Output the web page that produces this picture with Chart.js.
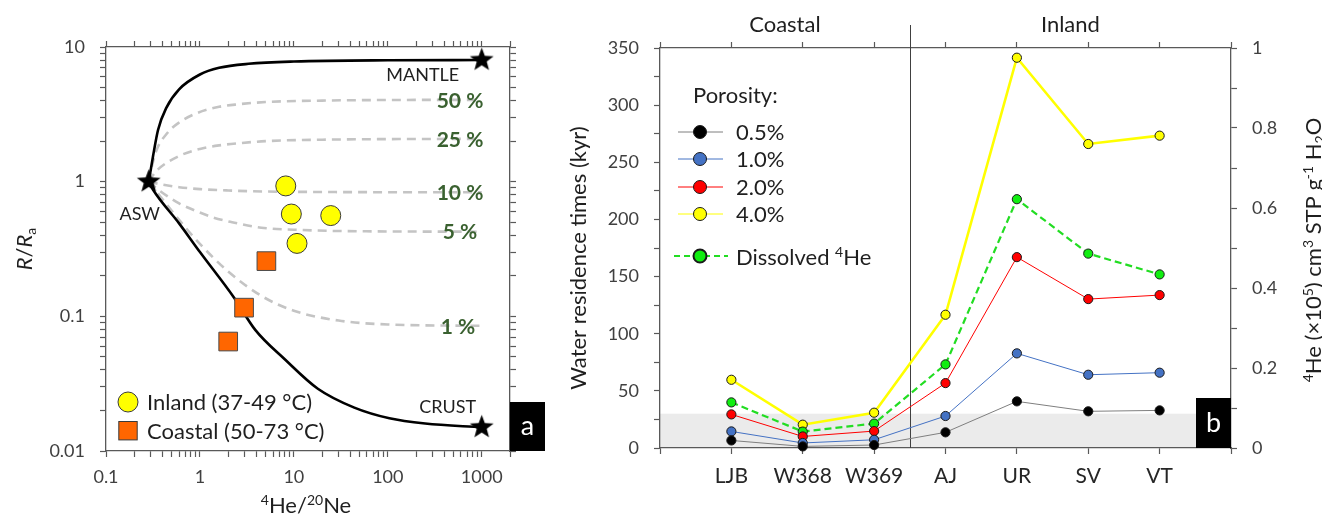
<!DOCTYPE html>
<html lang="en">
<head>
  <meta charset="utf-8">
  <title>Helium mixing and water residence times</title>
  <script src="https://cdn.jsdelivr.net/npm/chart.js@4.4.1/dist/chart.umd.min.js"></script>
  <style>
    html, body { margin: 0; padding: 0; background: #fff; }
    #wrap { position: relative; width: 1322px; height: 518px; overflow: hidden; }
    #chartA { position: absolute; left: 0; top: 0; }
    #chartB { position: absolute; left: 560px; top: 0; }
  </style>
</head>
<body>
<div id="wrap">
  <canvas id="chartA" width="560" height="518"></canvas>
  <canvas id="chartB" width="762" height="518"></canvas>
</div>
<script>
// ---------- panel a : R/Ra vs 4He/20Ne ----------
const endNames = ['ASW', 'MANTLE', 'CRUST'];
const endX = [0.285, 1000, 1000];
const endY = [1, 8, 0.015];

const inlandX = [8.2, 9.4, 24.7, 10.8];
const inlandY = [0.93, 0.575, 0.56, 0.348];
const coastalX = [5.1, 2.95, 2.0];
const coastalY = [0.257, 0.116, 0.065];

const mantleX = [0.285, 0.293, 0.317, 0.358, 0.44, 0.6, 1.0, 1.6, 3.3, 10, 100, 1000];
const mantleY = [1, 1.12, 1.55, 2.42, 3.55, 4.85, 6.25, 7.0, 7.5, 7.8, 7.97, 8];
const crustX = [0.285, 0.317, 0.6, 1.0, 2.3, 3.9, 8, 18, 44, 104, 250, 1000];
const crustY = [1, 0.87, 0.49, 0.3, 0.138, 0.079, 0.048, 0.029, 0.021, 0.0175, 0.016, 0.015];

const mixLabels = ['50 %', '25 %', '10 %', '5 %', '1 %'];
const mix50X = [0.285, 0.3, 0.344, 0.45, 0.6, 0.9, 1.6, 2.6, 5, 20, 100, 1000];
const mix50Y = [1, 1.2, 1.7, 2.3, 2.75, 3.2, 3.6, 3.76, 3.9, 4.0, 4.04, 4.05];
const mix25X = [0.285, 0.344, 0.6, 1.0, 1.6, 2.6, 5, 20, 100, 1000];
const mix25Y = [1, 1.2, 1.55, 1.75, 1.86, 1.93, 2.0, 2.05, 2.07, 2.08];
const mix10X = [0.285, 0.4, 0.6, 1.0, 2.0, 5, 20, 100, 1000];
const mix10Y = [1, 0.95, 0.91, 0.88, 0.86, 0.845, 0.838, 0.835, 0.834];
const mix05X = [0.285, 0.37, 0.6, 1.0, 1.4, 2.2, 4.5, 10, 30, 1000];
const mix05Y = [1, 0.86, 0.69, 0.59, 0.54, 0.5, 0.455, 0.44, 0.43, 0.425];
const mix01X = [0.285, 0.4, 0.6, 1.0, 2.0, 4.5, 10, 30, 100, 1000];
const mix01Y = [1, 0.74, 0.52, 0.345, 0.215, 0.142, 0.11, 0.093, 0.087, 0.085];

// ---------- panel b : residence times ----------
const sites = ['LJB', 'W368', 'W369', 'AJ', 'UR', 'SV', 'VT'];
const groupNames = ['Coastal', 'Inland'];
const por05 = [6.6, 1.4, 2.6, 13.7, 40.8, 32.1, 32.9];
const por10 = [14.5, 4.4, 7.2, 28.0, 82.8, 64.1, 65.9];
const por20 = [29.4, 10.1, 14.8, 56.8, 167, 130.3, 133.8];
const por40 = [59.7, 20.4, 30.9, 116.6, 341.5, 266, 273.3];
const dissolvedHe = [0.114, 0.041, 0.061, 0.209, 0.622, 0.486, 0.434];
const porosityLabels = ['0.5%', '1.0%', '2.0%', '4.0%'];
const bandTop = 30; // grey band, kyr

Chart.defaults.font.family = 'Lato, "Open Sans", sans-serif';
Chart.defaults.color = '#404040';
Chart.defaults.animation = false;

const AXIS = '#595959';
const TXT = '#1f1f1f';

function xy(xs, ys) { return xs.map((x, i) => ({ x: x, y: ys[i] })); }

function decadeTicks(min, max) {
  const out = [];
  for (let e = Math.floor(Math.log10(min)); e <= Math.ceil(Math.log10(max)); e++) {
    for (let m = 1; m <= 9; m++) {
      const v = Number((m * Math.pow(10, e)).toPrecision(2));
      if (v >= min * 0.999 && v <= max * 1.001) out.push({ value: v });
    }
  }
  return out;
}
function decadeLabel(v) {
  const p = Math.log10(v);
  return Math.abs(p - Math.round(p)) < 1e-6 ? String(Number(v.toPrecision(1))) : '';
}

function logAxis(pos, min, max, size, showLabels, pad) {
  return {
    type: 'logarithmic', position: pos, min: min, max: max,
    grid: { drawOnChartArea: false, color: AXIS, tickLength: 6, tickWidth: 1.2 },
    border: { color: AXIS, width: 1.3 },
    ticks: { display: showLabels, autoSkip: false, maxRotation: 0, padding: pad,
      font: { size: 18 }, color: '#404040', callback: (v) => decadeLabel(v) },
    afterBuildTicks: (s) => { s.ticks = decadeTicks(min, max); },
    afterFit: (s) => {
      if (pos === 'top' || pos === 'bottom') s.height = size; else s.width = size;
    }
  };
}

function makeStar(r) {
  const c = document.createElement('canvas');
  const s = Math.ceil(r * 2 + 2);
  c.width = s; c.height = s;
  const g = c.getContext('2d');
  g.translate(s / 2, s / 2);
  g.beginPath();
  for (let i = 0; i < 10; i++) {
    const rad = i % 2 === 0 ? r : r * 0.42;
    const a = -Math.PI / 2 + i * Math.PI / 5;
    g.lineTo(Math.cos(a) * rad, Math.sin(a) * rad);
  }
  g.closePath();
  g.fillStyle = '#000';
  g.fill();
  return c;
}

// text with superscripts / subscripts / italics
function partFont(p, size) {
  const s = (p.sup || p.sub) ? Math.round(size * 0.65) : size;
  return (p.italic ? 'italic ' : '') + (p.bold ? 'bold ' : '') + s + 'px Lato, "Open Sans", sans-serif';
}
function drawRich(ctx, parts, x, y, size, align, color) {
  let w = 0;
  parts.forEach(p => { ctx.font = partFont(p, size); w += ctx.measureText(p.t).width; });
  let cx = align === 'center' ? x - w / 2 : x;
  ctx.textAlign = 'left';
  ctx.textBaseline = 'alphabetic';
  ctx.fillStyle = color;
  const base = y + size * 0.36;
  parts.forEach(p => {
    ctx.font = partFont(p, size);
    let dy = 0;
    if (p.sup) dy = -size * 0.38;
    if (p.sub) dy = size * 0.2;
    ctx.fillText(p.t, cx, base + dy);
    cx += ctx.measureText(p.t).width;
  });
}
function drawRichRotated(ctx, parts, x, y, size, color) {
  ctx.save();
  ctx.translate(x, y);
  ctx.rotate(-Math.PI / 2);
  drawRich(ctx, parts, 0, 0, size, 'center', color);
  ctx.restore();
}

// ---------- chart a ----------
const star = makeStar(12.5);
const dashedStyle = { borderColor: '#c4c4c4', borderWidth: 2.6, borderDash: [9, 6], pointRadius: 0,
  cubicInterpolationMode: 'monotone', fill: false };
const mixSets = [[mix50X, mix50Y], [mix25X, mix25Y], [mix10X, mix10Y], [mix05X, mix05Y], [mix01X, mix01Y]];

const panelA = {
  id: 'panelA',
  afterDraw(chart) {
    const ctx = chart.ctx, a = chart.chartArea;
    const xs = chart.scales.x, ys = chart.scales.y;
    // percentage labels at the end of the dashed curves
    mixSets.forEach((m, i) => {
      const py = ys.getPixelForValue(m[1][m[1].length - 1]);
      ctx.font = 'bold 21px Lato, "Open Sans", sans-serif';
      ctx.textAlign = 'center';
      ctx.textBaseline = 'middle';
      ctx.fillStyle = '#3a6130';
      ctx.fillText(mixLabels[i], a.right - (i === 4 ? 52 : 50), py + 1);
    });
    // end-member names
    ctx.font = '18px Lato, "Open Sans", sans-serif';
    ctx.fillStyle = TXT;
    ctx.textAlign = 'center';
    ctx.textBaseline = 'middle';
    const p0x = xs.getPixelForValue(endX[0]), p0y = ys.getPixelForValue(endY[0]);
    ctx.fillText(endNames[0], p0x - 9, p0y + 33);
    ctx.fillText(endNames[1], xs.getPixelForValue(endX[1]) - 59, ys.getPixelForValue(endY[1]) + 15);
    ctx.fillText(endNames[2], xs.getPixelForValue(endX[2]) - 34, ys.getPixelForValue(endY[2]) - 20);
    // legend
    const lx = a.left + 22;
    ctx.beginPath();
    ctx.arc(lx, a.bottom - 49, 10, 0, Math.PI * 2);
    ctx.fillStyle = '#ffff00'; ctx.fill();
    ctx.strokeStyle = '#3a3a3a'; ctx.lineWidth = 1; ctx.stroke();
    ctx.fillStyle = '#ff6600';
    ctx.fillRect(lx - 9.2, a.bottom - 29.5, 18.4, 18.4);
    ctx.strokeRect(lx - 9.2, a.bottom - 29.5, 18.4, 18.4);
    ctx.font = '22px Lato, "Open Sans", sans-serif';
    ctx.fillStyle = TXT;
    ctx.textAlign = 'left';
    ctx.fillText('Inland (37-49 °C)', lx + 19, a.bottom - 48);
    ctx.fillText('Coastal (50-73 °C)', lx + 19, a.bottom - 19);
    // panel tag
    ctx.fillStyle = '#000';
    ctx.fillRect(a.right, a.bottom - 49, 35, 49);
    ctx.fillStyle = '#fff';
    ctx.font = '27px Lato, "Open Sans", sans-serif';
    ctx.textAlign = 'center';
    ctx.textBaseline = 'alphabetic';
    ctx.fillText('a', a.right + 17.5, a.bottom - 16);
    // axis titles
    drawRich(ctx, [{ t: '4', sup: true }, { t: 'He/' }, { t: '20', sup: true }, { t: 'Ne' }],
      (a.left + a.right) / 2 - 2, 505, 22, 'center', TXT);
    drawRichRotated(ctx, [{ t: 'R', italic: true }, { t: '/' }, { t: 'R', italic: true }, { t: 'a', sub: true }],
      24, (a.top + a.bottom) / 2, 22, TXT);
  }
};

new Chart(document.getElementById('chartA'), {
  type: 'line',
  data: {
    datasets: [
      { label: 'end members', data: xy(endX, endY), showLine: false, pointStyle: star, pointRadius: 12,
        clip: false, order: 0 },
      { label: 'Inland (37-49 °C)', data: xy(inlandX, inlandY), showLine: false, pointStyle: 'circle',
        pointRadius: 10, backgroundColor: '#ffff00', borderColor: '#3a3a3a', borderWidth: 1, clip: false, order: 1 },
      { label: 'Coastal (50-73 °C)', data: xy(coastalX, coastalY), showLine: false, pointStyle: 'rect',
        pointRadius: 13.2, backgroundColor: '#ff6600', borderColor: '#4a4a4a', borderWidth: 1, clip: false, order: 2 },
      { label: 'mantle', data: xy(mantleX, mantleY), borderColor: '#000', borderWidth: 2.6, pointRadius: 0,
        cubicInterpolationMode: 'monotone', order: 3 },
      { label: 'crust', data: xy(crustX, crustY), borderColor: '#000', borderWidth: 2.6, pointRadius: 0,
        cubicInterpolationMode: 'monotone', order: 4 },
      ...mixSets.map((m, i) => Object.assign({ label: mixLabels[i], data: xy(m[0], m[1]), order: 5 + i }, dashedStyle))
    ]
  },
  options: {
    responsive: false,
    layout: { padding: { left: 0, right: 50, top: 47, bottom: 0 } },
    plugins: { legend: { display: false }, tooltip: { enabled: false } },
    scales: {
      x: logAxis('bottom', 0.1, 2000, 67, true, 9),
      xTop: logAxis('top', 0.1, 2000, 0, false, 0),
      y: logAxis('left', 0.01, 10, 106, true, 15),
      yRight: logAxis('right', 0.01, 10, 0, false, 0)
    }
  },
  plugins: [panelA]
});

// ---------- chart b ----------
const seriesStyle = [
  { data: por05, line: '#7f7f7f', fill: '#000000', width: 1, dash: [] },
  { data: por10, line: '#4472c4', fill: '#4472c4', width: 1, dash: [] },
  { data: por20, line: '#ff0000', fill: '#ff0000', width: 1, dash: [] },
  { data: por40, line: '#ffff00', fill: '#ffff00', width: 2.6, dash: [] }
];
const heStyle = { line: '#22dd22', fill: '#11ee11', width: 2.2, dash: [7, 4] };

function linAxis(pos, min, max, step, size, opts) {
  return Object.assign({
    type: 'linear', position: pos, min: min, max: max,
    grid: { drawOnChartArea: false, color: AXIS, tickLength: 6, tickWidth: 1.2 },
    border: { color: AXIS, width: 1.3 },
    afterFit: (s) => {
      if (pos === 'top' || pos === 'bottom') s.height = size; else s.width = size;
    }
  }, opts, { ticks: Object.assign({ stepSize: step, autoSkip: false, maxRotation: 0, color: '#404040',
    font: { size: 18 } }, opts.ticks || {}) });
}

const panelB = {
  id: 'panelB',
  beforeDraw(chart) {
    const ctx = chart.ctx, a = chart.chartArea, ys = chart.scales.y;
    const top = ys.getPixelForValue(bandTop);
    ctx.save();
    ctx.fillStyle = '#ebebeb';
    ctx.fillRect(a.left, top, a.right - a.left, a.bottom - top);
    ctx.restore();
  },
  beforeDatasetsDraw(chart) {
    const ctx = chart.ctx, a = chart.chartArea, xs = chart.scales.x;
    const sx = Math.round(xs.getPixelForValue(2.5)) + 0.5;
    ctx.save();
    ctx.strokeStyle = '#404040';
    ctx.lineWidth = 1;
    ctx.beginPath();
    ctx.moveTo(sx, 25);
    ctx.lineTo(sx, a.bottom);
    ctx.stroke();
    ctx.restore();
  },
  afterDraw(chart) {
    const ctx = chart.ctx, a = chart.chartArea, xs = chart.scales.x;
    const sx = xs.getPixelForValue(2.5);
    ctx.save();
    ctx.font = '22px Lato, "Open Sans", sans-serif';
    ctx.fillStyle = TXT;
    ctx.textAlign = 'center';
    ctx.textBaseline = 'middle';
    ctx.fillText(groupNames[0], (a.left + sx) / 2, 25);
    ctx.fillText(groupNames[1], (sx + a.right) / 2, 25);
    // legend
    const lx = a.left + 18, mx = a.left + 40, tx = a.left + 76;
    ctx.textAlign = 'left';
    ctx.fillText('Porosity:', a.left + 33, 96);
    const rows = [132, 159, 187, 214];
    seriesStyle.forEach((s, i) => {
      ctx.strokeStyle = s.line; ctx.lineWidth = 1; ctx.setLineDash([]);
      ctx.beginPath(); ctx.moveTo(lx, rows[i]); ctx.lineTo(lx + 45, rows[i]); ctx.stroke();
      ctx.beginPath(); ctx.arc(mx, rows[i], 6.5, 0, Math.PI * 2);
      ctx.fillStyle = s.fill; ctx.fill();
      ctx.strokeStyle = '#1a1a1a'; ctx.lineWidth = 1; ctx.stroke();
      ctx.fillStyle = TXT;
      ctx.fillText(porosityLabels[i], tx, rows[i] + 1);
    });
    ctx.strokeStyle = heStyle.line; ctx.lineWidth = 2; ctx.setLineDash([6, 4]);
    ctx.beginPath(); ctx.moveTo(lx - 4, 256); ctx.lineTo(lx + 50, 256); ctx.stroke();
    ctx.setLineDash([]);
    ctx.beginPath(); ctx.arc(mx, 256, 6.5, 0, Math.PI * 2);
    ctx.fillStyle = heStyle.fill; ctx.fill();
    ctx.strokeStyle = '#1a1a1a'; ctx.stroke();
    drawRich(ctx, [{ t: 'Dissolved ' }, { t: '4', sup: true }, { t: 'He' }], tx, 257, 22, 'left', TXT);
    // panel tag
    ctx.fillStyle = '#000';
    ctx.fillRect(a.right - 35, a.bottom - 50, 35, 50);
    ctx.fillStyle = '#fff';
    ctx.font = '27px Lato, "Open Sans", sans-serif';
    ctx.textAlign = 'center';
    ctx.textBaseline = 'alphabetic';
    ctx.fillText('b', a.right - 17.5, a.bottom - 16);
    // axis titles
    drawRichRotated(ctx, [{ t: 'Water residence times (kyr)' }], 18, 258, 22, TXT);
    drawRichRotated(ctx, [{ t: '4', sup: true }, { t: 'He (×10' }, { t: '5', sup: true }, { t: ') cm' },
      { t: '3', sup: true }, { t: ' STP g' }, { t: '-1', sup: true }, { t: ' H' }, { t: '2', sub: true }, { t: 'O' }],
      753, 250, 22, TXT);
    ctx.restore();
  }
};

const bSets = seriesStyle.map((s, i) => ({
  label: porosityLabels[i],
  data: s.data.map((v, k) => ({ x: k, y: v })),
  yAxisID: 'y',
  borderColor: s.line, borderWidth: s.width,
  pointRadius: 4.6, pointBackgroundColor: s.fill, pointBorderColor: '#1a1a1a', pointBorderWidth: 1,
  clip: false, order: i === 3 ? 4 : i
}));
bSets.push({
  label: 'Dissolved 4He',
  data: dissolvedHe.map((v, k) => ({ x: k, y: v })),
  yAxisID: 'y1',
  borderColor: heStyle.line, borderWidth: heStyle.width, borderDash: heStyle.dash,
  pointRadius: 4.6, pointBackgroundColor: heStyle.fill, pointBorderColor: '#1a1a1a', pointBorderWidth: 1,
  clip: false, order: 3
});

new Chart(document.getElementById('chartB'), {
  type: 'line',
  data: { datasets: bSets },
  options: {
    responsive: false,
    layout: { padding: { left: 0, right: 0, top: 48, bottom: 0 } },
    plugins: { legend: { display: false }, tooltip: { enabled: false } },
    scales: {
      x: linAxis('bottom', -1, 7, 1, 70, { ticks: { padding: 10, font: { size: 21 }, color: '#262626',
        callback: (v) => (Number.isInteger(v) && v >= 0 && v < sites.length) ? sites[v] : '' } }),
      xTop: linAxis('top', -1, 7, 1, 0, { ticks: { display: false } }),
      y: linAxis('left', 0, 350, 25, 100, { ticks: { padding: 15,
        callback: (v) => (v % 50 === 0 ? String(v) : '') } }),
      y1: linAxis('right', 0, 1, 0.1, 91, { ticks: { padding: 15,
        callback: (v) => { const k = Math.round(v * 10); return k % 2 === 0 ? String(k / 10) : ''; } } })
    }
  },
  plugins: [panelB]
});
</script>
</body>
</html>
